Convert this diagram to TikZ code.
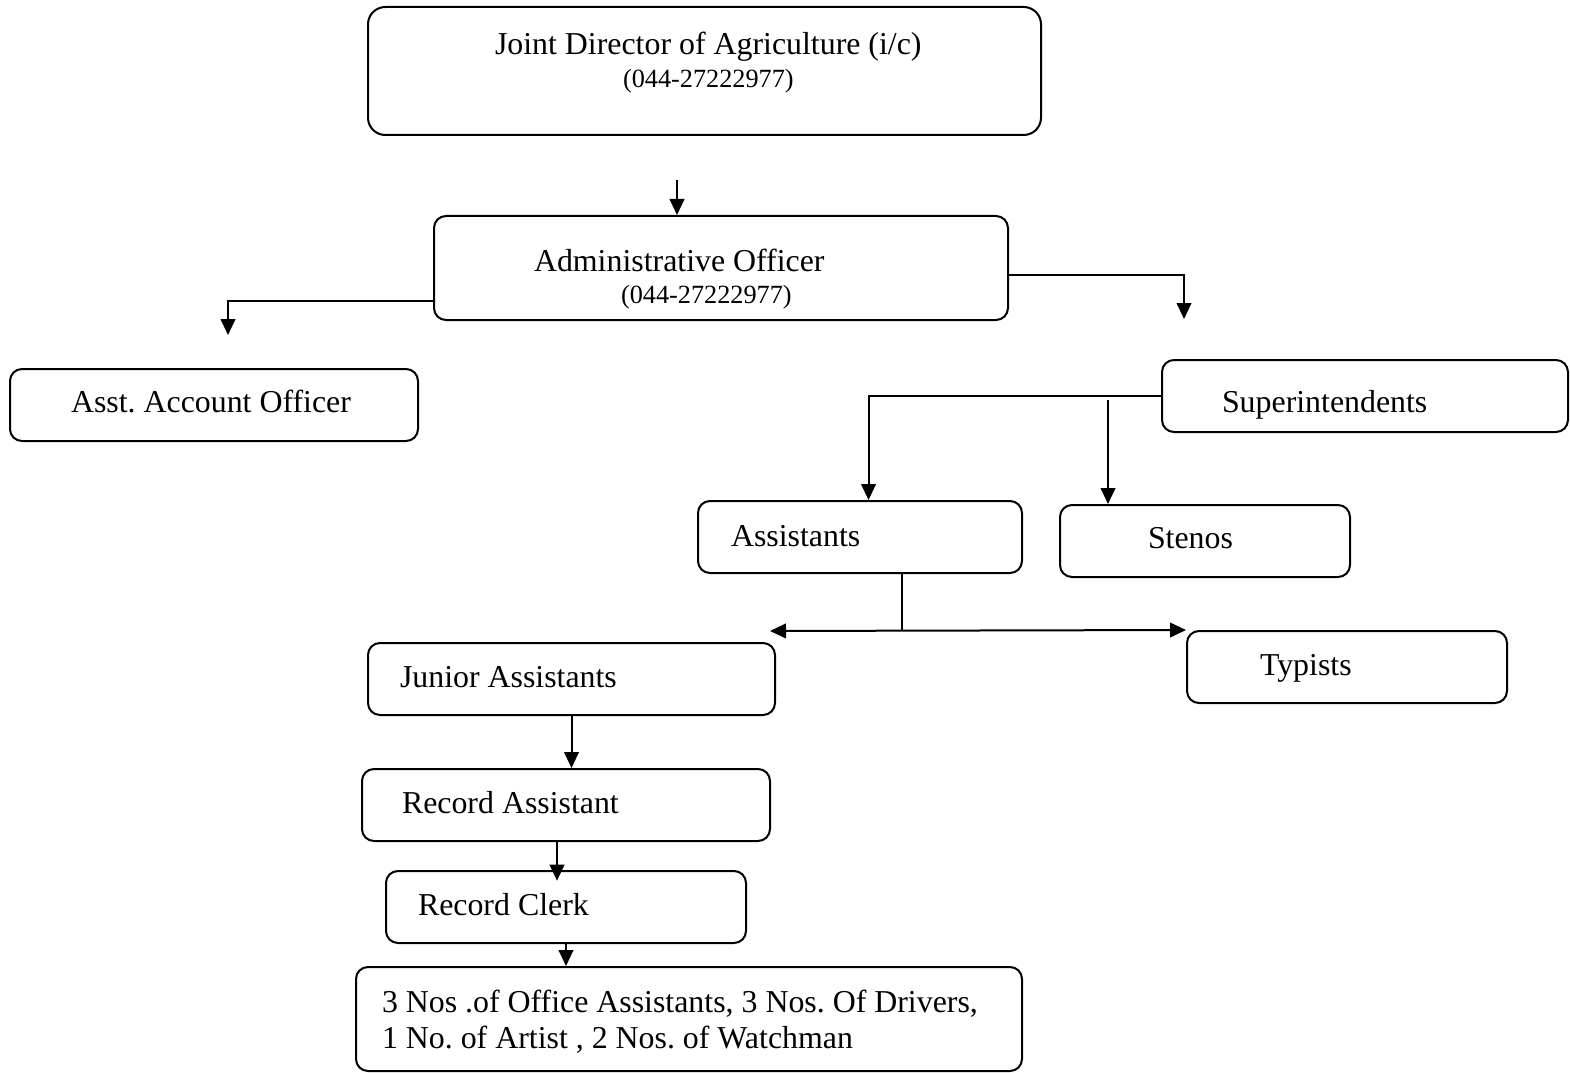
\documentclass[tikz,border=0pt]{standalone}
\usepackage{fontspec}
\setmainfont{Liberation Serif}
\usetikzlibrary{fit,arrows.meta}
\frenchspacing

\tikzset{every picture/.style={line width=1.5pt}}
\tikzset{
  box/.style={draw, rounded corners=9pt, inner sep=0pt},
  lbl/.style={anchor=base west, inner sep=0pt, font=\fontsize{23.9}{27}\selectfont},
  tel/.style={anchor=base west, inner sep=0pt, font=\fontsize{19.7}{23}\selectfont},
  arr/.style={-{Triangle[length=12pt,width=11pt]}},
  arrboth/.style={{Triangle[length=12pt,width=11pt]}-{Triangle[length=12pt,width=11pt]}},
}

\begin{document}
\begin{tikzpicture}[x=0.75pt,y=0.75pt,yscale=-1,xscale=1]
    \useasboundingbox (0,0) rectangle (1570,1073);

    %Shape: Rounded Rect
    \node[box, rounded corners=13pt, fit={(368,7) (1041,135)}] (jd) {};
    \node[box, fit={(434,216) (1008,320)}] (ao) {};
    \node[box, fit={(10,369) (418,441)}] (aao) {};
    \node[box, fit={(1162,360) (1568,432)}] (supt) {};
    \node[box, fit={(698,501) (1022,573)}] (asst) {};
    \node[box, fit={(1060,505) (1350,577)}] (steno) {};
    \node[box, fit={(368,643) (775,715)}] (jrasst) {};
    \node[box, fit={(1187,631) (1507,703)}] (typist) {};
    \node[box, fit={(362,769) (770,841)}] (recasst) {};
    \node[box, fit={(386,871) (746,943)}] (recclerk) {};
    \node[box, fit={(356,967) (1022,1071)}] (staff) {};

    %Free ends
    \coordinate (jdtail) at (677,180);
    \coordinate (aoleft) at ([yshift=-15pt]ao.south west);
    \coordinate (aaotip) at (228,335);
    \coordinate (aoright) at ([yshift=-34.5pt]ao.south east);
    \coordinate (supttip) at (1184,319);
    \coordinate (suptleft) at ([yshift=-27.75pt]supt.south west);
    \coordinate (stenotail) at (1108,400);
    \coordinate (asstfoot) at (902,631);
    \coordinate (jrtip) at (770,631);

    %Straight Lines
    \draw[arr] (jdtail) -- (ao.north -| jdtail);
    \draw[arr] (aoleft) -| (aaotip);
    \draw[arr] (aoright) -| (supttip);
    \draw[arr] (suptleft) -| ([xshift=6.4pt]asst.north);
    \draw[arr] (stenotail) -- (steno.north -| stenotail);
    \draw (asst.south -| asstfoot) -- (asstfoot);
    \draw[arrboth] (jrtip) -- (typist.north west);
    \draw[arr] (jrasst.south) -- (recasst.north -| jrasst.south);
    \draw[arr] ([xshift=-6.75pt]recasst.south) -- ([xshift=-6.75pt,yshift=8pt]recclerk.north);
    \draw[arr] (recclerk.south) -- (staff.north -| recclerk.south);

    % Text Node
    \node[lbl] (jdlbl) at (494,55) {Joint Director of Agriculture (i/c)};
    \node[tel] (jdtel) at (622,88) {(044-27222977)};
    \node[lbl] (aolbl) at (533,272) {Administrative Officer};
    \node[tel] (aotel) at (620,303) {(044-27222977)};
    \node[lbl] (aaolbl) at (70,412) {Asst. Account Officer};
    \node[lbl] (suptlbl) at (1221,412) {Superintendents};
    \node[lbl] (asstlbl) at (730,546) {Assistants};
    \node[lbl] (stenolbl) at (1147,548) {Stenos};
    \node[lbl] (jrasstlbl) at (399,687) {Junior Assistants};
    \node[lbl] (typistlbl) at (1259,675) {Typists};
    \node[lbl] (recasstlbl) at (401,813) {Record Assistant};
    \node[lbl] (recclerklbl) at (417,915) {Record Clerk};
    \node[lbl, align=left] (stafflbl) at (381,1048) {3 Nos .of Office Assistants, 3 Nos. Of Drivers,\\1 No. of Artist , 2 Nos. of Watchman};

\end{tikzpicture}
\end{document}
